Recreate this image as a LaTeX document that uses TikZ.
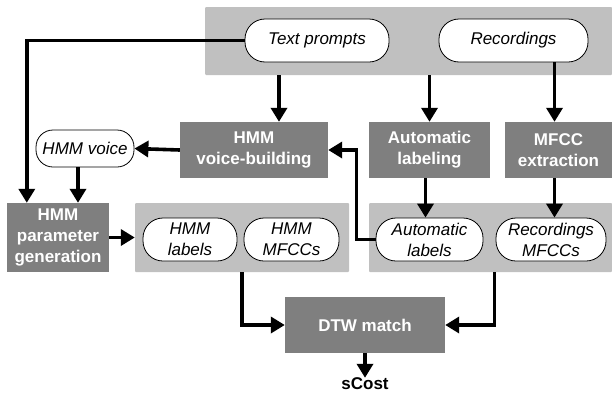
\documentclass[tikz,border=0pt]{standalone}
\usepackage{fontspec}
\setmainfont{Liberation Sans}
\usetikzlibrary{arrows.meta,calc}
\definecolor{lg}{RGB}{192,192,192}
\definecolor{dg}{RGB}{127,127,127}
\begin{document}
\begin{tikzpicture}[x=1pt,y=-1pt,
  dbox/.style={fill=dg,draw=none,inner sep=0pt,text=white,align=center,
    font=\fontsize{17}{21}\selectfont\bfseries},
  gbox/.style={fill=lg,draw=none,inner sep=0pt,rounded corners=1pt},
  pill/.style={fill=white,draw=black,line width=0.8pt,inner sep=0pt,align=center,
    font=\fontsize{17}{21}\selectfont\itshape},
  arr/.style={line width=3.6pt,-{Triangle[width=16pt,length=14pt]}}]
\useasboundingbox (0,0) rectangle (612,394);
% gray containers
\node[gbox,minimum width=407pt,minimum height=68pt] (top) at (408.5,41) {};
\node[gbox,minimum width=214pt,minimum height=69pt] (g2) at (242,237.5) {};
\node[gbox,minimum width=243pt,minimum height=69pt] (g3) at (490.5,237.5) {};
% pills
\node[pill,minimum width=144pt,minimum height=43pt,rounded corners=20pt] (tp) at (317,40.5) {Text prompts};
\node[pill,minimum width=149pt,minimum height=43pt,rounded corners=20pt] (rec) at (513.5,40.5) {Recordings};
\node[pill,minimum width=98pt,minimum height=37pt,rounded corners=17pt] (hv) at (85,148.5) {HMM voice};
\node[pill,minimum width=94pt,minimum height=43pt,rounded corners=20pt] (hl) at (190,239.5) {HMM\\labels};
\node[pill,minimum width=95pt,minimum height=43pt,rounded corners=20pt] (hm) at (291.5,239.5) {HMM\\MFCCs};
\node[pill,minimum width=107pt,minimum height=43pt,rounded corners=20pt] (albl) at (429.5,239.5) {Automatic\\labels};
\node[pill,minimum width=110pt,minimum height=43pt,rounded corners=20pt] (rmf) at (551,239.5) {Recordings\\MFCCs};
% dark boxes
\node[dbox,minimum width=148pt,minimum height=56pt] (vb) at (254,150) {HMM\\voice-building};
\node[dbox,minimum width=121pt,minimum height=56pt] (al) at (429.5,150) {Automatic\\labeling};
\node[dbox,minimum width=107pt,minimum height=56pt] (mf) at (558.5,150) {MFCC\\extraction};
\node[dbox,minimum width=102pt,minimum height=69pt] (pg) at (58,237.5) {HMM\\parameter\\generation};
\node[dbox,minimum width=160pt,minimum height=56pt] (dtw) at (365,325) {DTW match};
\node[inner sep=0pt,font=\fontsize{17}{21}\selectfont\bfseries] (sc) at (365,384) {sCost};
% connectors
\draw[arr] (tp.west) -| ([xshift=20pt]pg.north west);
\draw[arr] ([xshift=25pt]vb.north |- top.south) -- ([xshift=25pt]vb.north);
\draw[arr] (al.north |- top.south) -- (al.north);
\draw[arr] ([xshift=-4pt]mf.north |- rec.south) -- ([xshift=-4pt]mf.north);
\draw[arr] (vb.west) -- (hv.east);
\draw[arr] ([xshift=-7pt]hv.south) -- ([xshift=-7pt]hv.south |- pg.north);
\draw[arr] (pg.east) -- (g2.west);
\draw[arr] (albl.west) -- ++(-19,0) |- (vb.east);
\draw[arr] ([xshift=-4pt]al.south) -- ([xshift=-4pt]al.south |- albl.north);
\draw[arr] ([xshift=-4pt]mf.south) -- ([xshift=-4pt]mf.south |- rmf.north);
\draw[arr] (g2.south) |- (dtw.west);
\draw[arr] ([xshift=4pt]g3.south) |- (dtw.east);
\draw[arr] (dtw.south) -- (sc.north);
\end{tikzpicture}
\end{document}
